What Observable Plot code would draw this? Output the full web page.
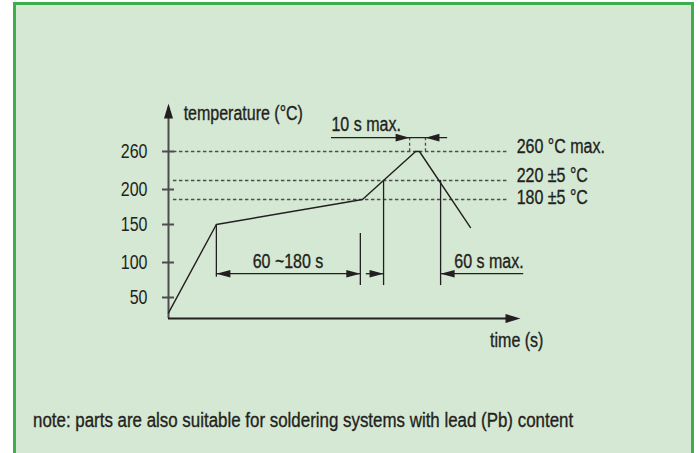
<!DOCTYPE html>
<html>
<head>
<meta charset="utf-8">
<script src="https://cdn.jsdelivr.net/npm/d3@7"></script>
<script src="https://cdn.jsdelivr.net/npm/@observablehq/plot@0.6"></script>
<style>
  html, body { margin: 0; padding: 0; background: #ffffff; }
  #wrap { position: relative; width: 700px; height: 453px; overflow: hidden; }
  #frame { position: absolute; left: 13px; top: 2px; width: 675px; height: 480px;
           border: 3px solid #3cae4c; background: #d5e8d3; }
  #chart { position: absolute; left: 0; top: 0; }
  #note { position: absolute; left: 33px; top: 408px; line-height: 24px; font-size: 20px;
          font-family: "Liberation Sans", Arial, sans-serif; color: #231f20; white-space: nowrap;
          -webkit-text-stroke: 0.35px #231f20;
          display: inline-block; transform: scaleX(0.845); transform-origin: 0 0; }
</style>
</head>
<body>
<div id="wrap">
  <div id="frame"></div>
  <div id="chart"></div>
  <div id="note"></div>
</div>
<script>
// ---------- data (relative time units, °C) ----------
const yTicks = [50, 100, 150, 200, 260];
const profileTime = [0, 13.6, 55.1, 70.2, 71.3, 85.8];
const profileTemp = [28, 150, 180, 260, 260, 146];
const limitTemps = [260, 220, 180];
const limitLabels = ["260 °C max.", "220 ±5 °C", "180 ±5 °C"];
const phaseTimes = [13.6, 54.5, 61.1, 77.3];          // preheat start/end, reflow start/end
const peakWindow = [68.5, 73.0];                       // 10 s max. window
const dimLabels = ["60 ~180 s", "60 s max.", "10 s max."];
const axisLabels = ["temperature (°C)", "time (s)"];
const noteText = "note: parts are also suitable for soldering systems with lead (Pb) content";

// ---------- styling ----------
const FONT = '"Liberation Sans", Arial, sans-serif';
const INK = "#231f20";
const AXIS = "#4d4d4d";
const FS = 20;
const SX = 0.8;   // horizontal condensing of the text (reference uses a condensed face)

// filled arrowheads (tip at the data point)
const head = (dx, dy, L, W) => ({
  draw(ctx) {
    const px = -dx, py = -dy;
    const nx = -dy, ny = dx;
    ctx.moveTo(0, 0);
    ctx.lineTo(px * L + nx * W, py * L + ny * W);
    ctx.lineTo(px * L - nx * W, py * L - ny * W);
    ctx.closePath();
  }
});
const axisUp = head(0, -1, 15, 4.5);
const axisRight = head(1, 0, 15, 4.5);
const dimRight = head(1, 0, 14, 3.8);
const dimLeft = head(-1, 0, 14, 3.8);

const profile = profileTime.map((t, i) => ({t, T: profileTemp[i]}));
const dimY = 84;
const winY = 279;

const extLines = [
  {t: phaseTimes[0], y1: 150, y2: 79},
  {t: phaseTimes[1], y1: 138, y2: 67},
  {t: phaseTimes[2], y1: 220, y2: 67},
  {t: phaseTimes[3], y1: 220, y2: 67}
];
const dimSegs = [
  {x1: phaseTimes[0], x2: phaseTimes[1], y: dimY},
  {x1: 56.2, x2: phaseTimes[2], y: dimY},
  {x1: phaseTimes[3], x2: 100.9, y: dimY},
  {x1: 46.3, x2: 79.3, y: winY}
];
const heads = [
  {t: 0, T: 326, s: axisUp},
  {t: 100, T: 20, s: axisRight},
  {t: phaseTimes[0], T: dimY, s: dimLeft},
  {t: phaseTimes[1], T: dimY, s: dimRight},
  {t: phaseTimes[2], T: dimY, s: dimRight},
  {t: phaseTimes[3], T: dimY, s: dimLeft},
  {t: peakWindow[0], T: winY, s: dimRight},
  {t: peakWindow[1], T: winY, s: dimLeft}
];
const textCommon = {fontSize: FS, fontFamily: FONT, fill: INK, stroke: INK, strokeWidth: 0.35, lineAnchor: "bottom"};
const headDots = (sym) => Plot.dot(heads.filter(d => d.s === sym), {x: "t", y: "T", symbol: sym, fill: INK, stroke: "none"});
const limitIdx = limitTemps.map((d, i) => i);

const chart = Plot.plot({
  width: 700,
  height: 400,
  marginLeft: 168, marginRight: 180, marginTop: 100, marginBottom: 82,
  style: {background: "transparent", fontFamily: FONT, color: INK, overflow: "visible"},
  x: {domain: [0, 100], range: [168, 520], axis: null},
  y: {type: "linear",
      domain: [20, 50, 100, 150, 180, 200, 220, 260, 330],
      range: [318, 297, 262, 224, 199, 189, 180, 151, 100]},
  marks: [
    Plot.ruleY(limitTemps, {x1: 1.4, x2: 96.6, stroke: AXIS, strokeWidth: 1.3, strokeDasharray: "3.5,2.5"}),
    Plot.ruleX(peakWindow, {y1: winY, y2: 260, stroke: AXIS, strokeWidth: 1.3, strokeDasharray: "3,2.5"}),
    Plot.ruleX([0], {y1: 20, y2: 320, stroke: AXIS, strokeWidth: 2}),
    Plot.ruleY([20], {x1: 0, x2: 97, stroke: INK, strokeWidth: 2}),
    Plot.ruleY(yTicks, {x1: -1.7, x2: 1.7, stroke: AXIS, strokeWidth: 2}),
    Plot.axisY(yTicks, {tickSize: 0, tickPadding: 21, fontSize: FS, fontFamily: FONT, fill: INK, stroke: INK, strokeWidth: 0.35, label: null}),
    Plot.ruleX(extLines, {x: "t", y1: "y1", y2: "y2", stroke: INK, strokeWidth: 1.3}),
    Plot.ruleY(dimSegs, {x1: "x1", x2: "x2", y: "y", stroke: INK, strokeWidth: 1.3}),
    Plot.line(profile, {x: "t", y: "T", stroke: INK, strokeWidth: 1.4}),
    headDots(axisUp), headDots(axisRight), headDots(dimRight), headDots(dimLeft),
    Plot.text([axisLabels[0]], {x: 4.3, y: 303, text: d => d, textAnchor: "start", ...textCommon}),
    Plot.text([axisLabels[1]], {x: 106.5, y: -21, text: d => d, textAnchor: "end", ...textCommon}),
    Plot.text([dimLabels[2]], {x: 46.3, y: 287.6, text: d => d, textAnchor: "start", ...textCommon}),
    Plot.text([dimLabels[0]], {x: 33.95, y: 92.4, text: d => d, textAnchor: "middle", ...textCommon}),
    Plot.text([dimLabels[1]], {x: 100.9, y: 92.4, text: d => d, textAnchor: "end", ...textCommon}),
    Plot.text(limitIdx.slice(0, 2), {x: 98.9, y: i => limitTemps[i], text: i => limitLabels[i], textAnchor: "start", dy: 1.5, ...textCommon}),
    Plot.text(limitIdx.slice(2), {x: 98.9, y: i => limitTemps[i], text: i => limitLabels[i], textAnchor: "start", dy: 4, ...textCommon})
  ]
});
// condense every text horizontally about its own anchor point
chart.querySelectorAll("text").forEach(t => {
  const x0 = +(t.getAttribute("x") || 0);
  const tr = t.getAttribute("transform") || "";
  t.setAttribute("transform", `${tr} translate(${x0},0) scale(${SX},1) translate(${-x0},0)`.trim());
});
document.getElementById("chart").appendChild(chart);
document.getElementById("note").textContent = noteText;
</script>
</body>
</html>
